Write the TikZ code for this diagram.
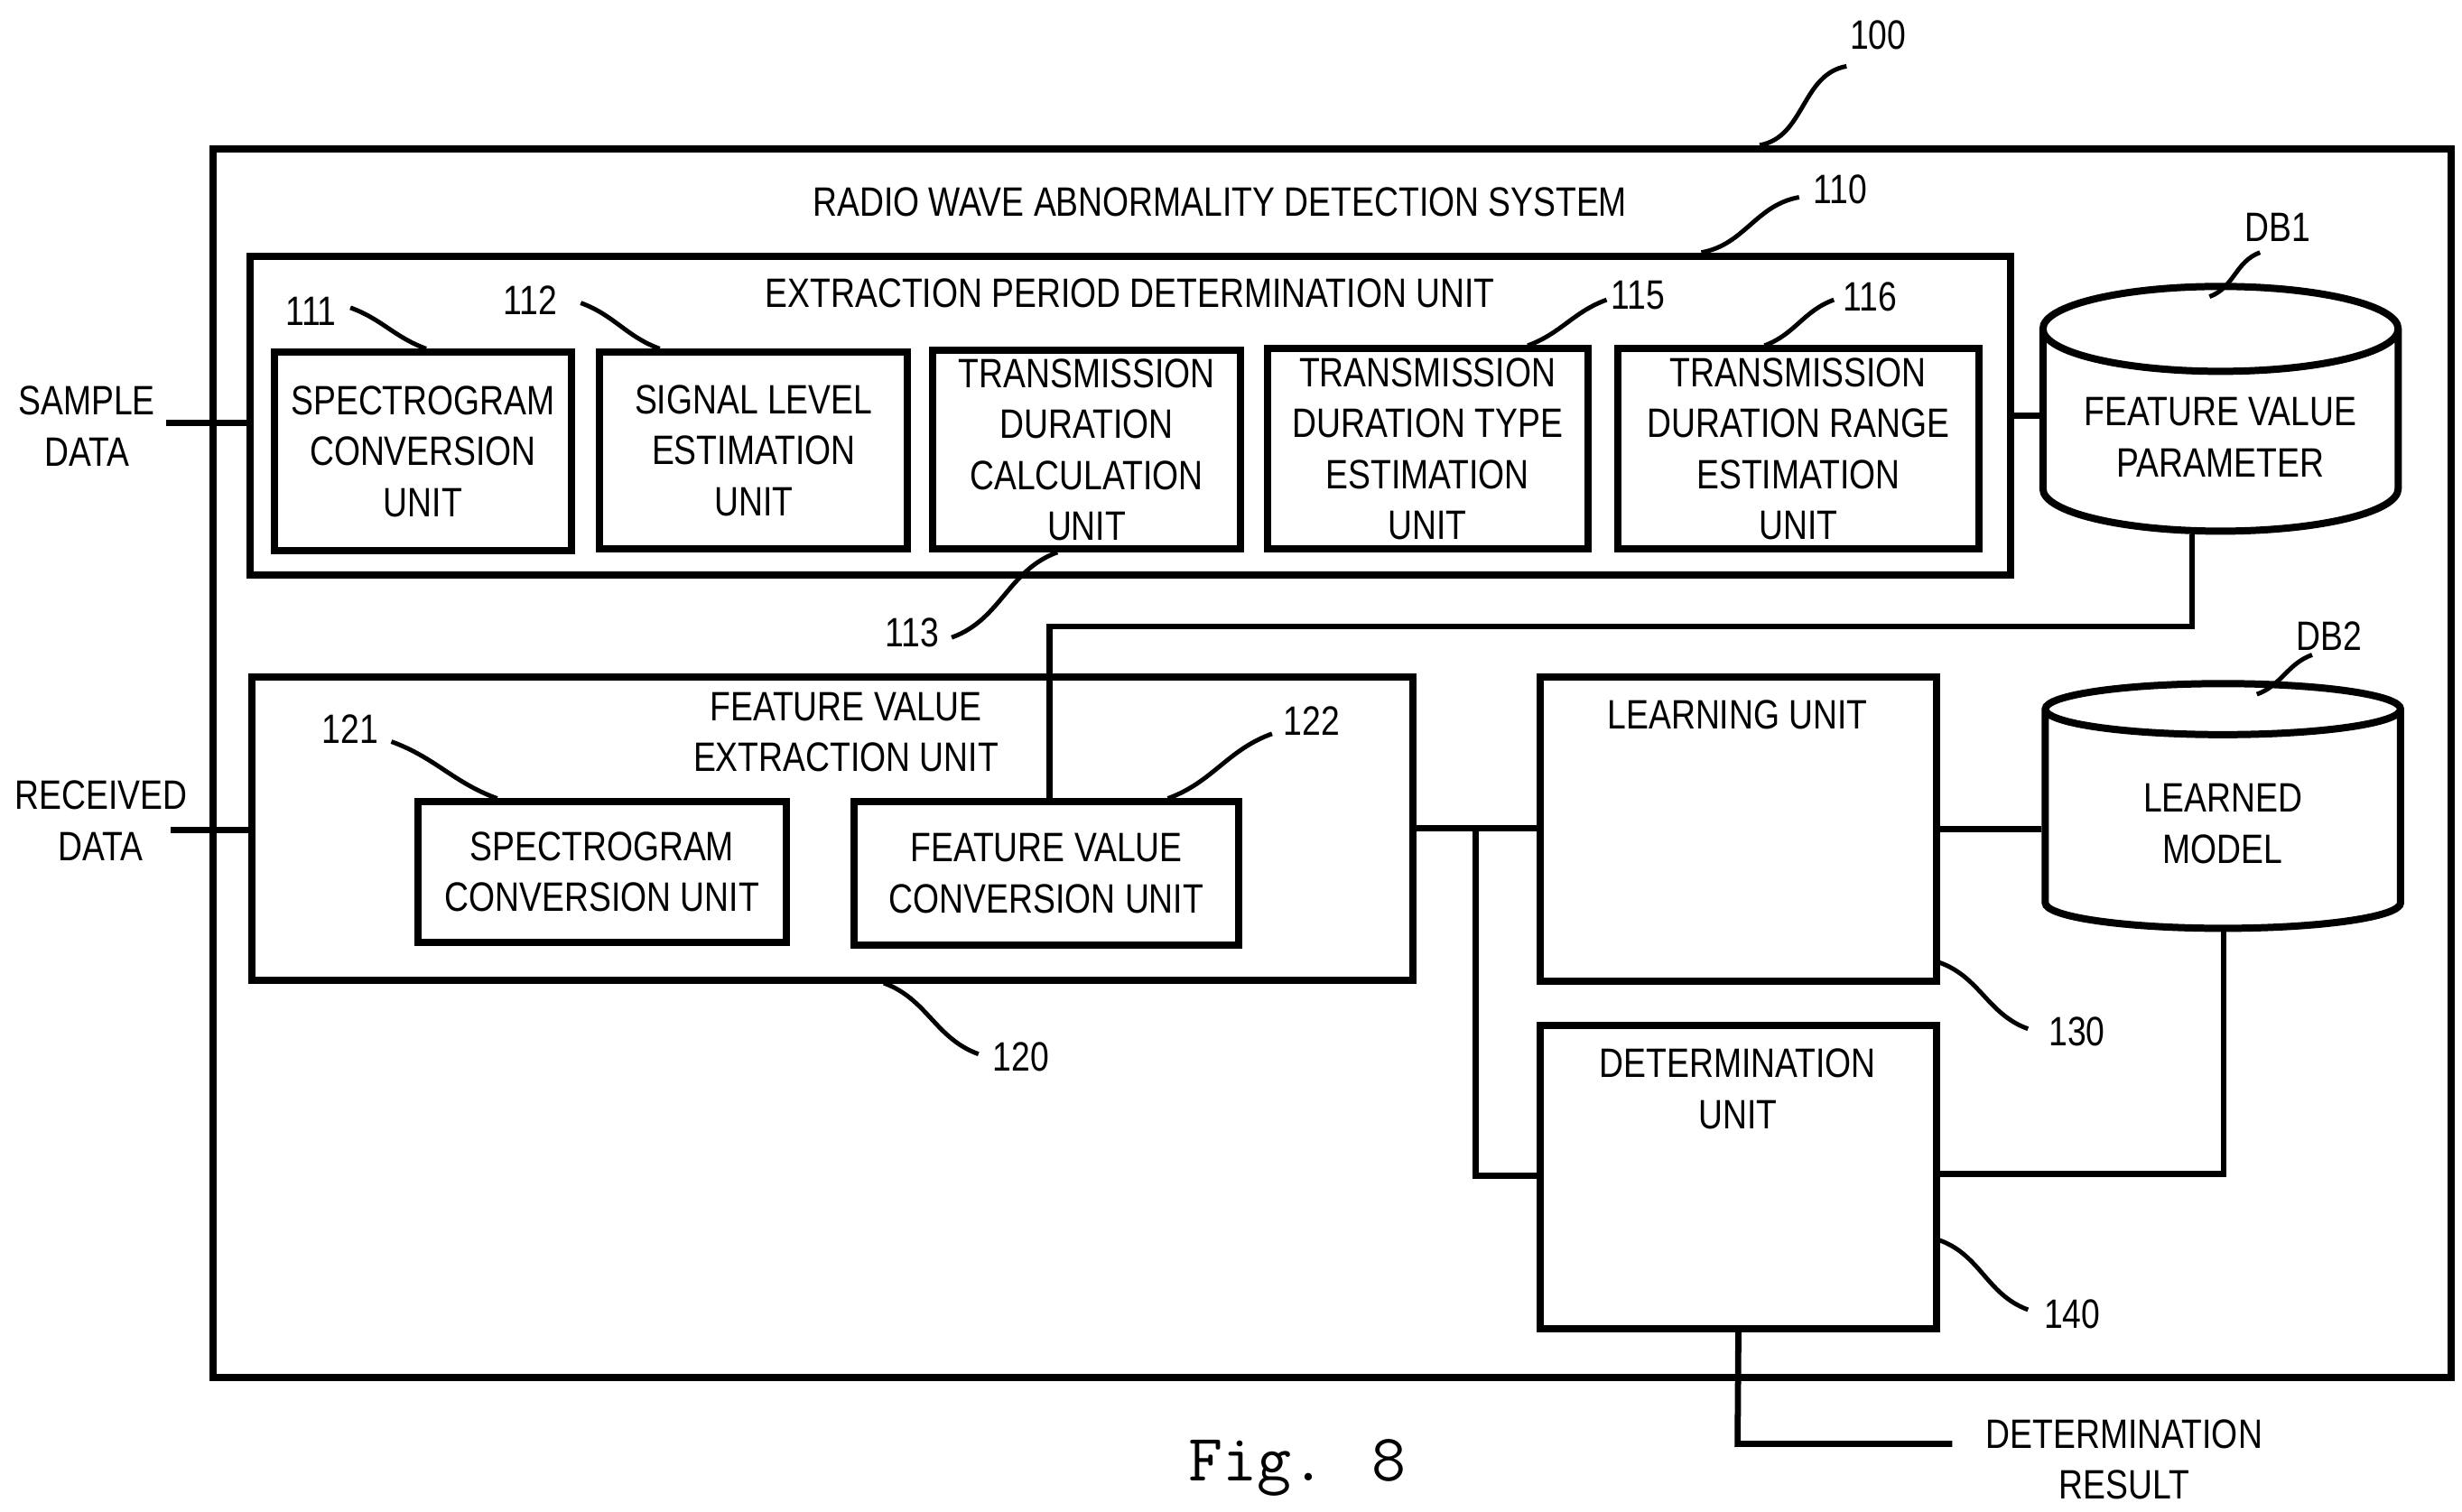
\documentclass[tikz,border=0pt]{standalone}
\usepackage{fontspec}
\setmainfont{Liberation Sans}[FakeStretch=0.82]
\usetikzlibrary{shapes.geometric}
\begin{document}
\begin{tikzpicture}[x=0.01cm,y=-0.01cm,line width=1.1pt,
  box/.style={draw,line width=1.3pt,align=center,inner sep=1pt,font=\fontsize{7.4}{9.2}\selectfont},
  txt/.style={align=center,inner sep=1pt,font=\fontsize{7.4}{9.2}\selectfont},
  db/.style={draw,line width=1.3pt,cylinder,shape border rotate=90,aspect=0.3,inner sep=1pt,minimum width=2.25cm,minimum height=1.55cm,align=center,font=\fontsize{7.4}{9.2}\selectfont},
  lead/.style={line width=0.8pt}]
  \useasboundingbox (0,0) rectangle (1560,958);
  % outer system
  \node[box,minimum width=14.17cm,minimum height=7.78cm] (sys) at (844,483.5) {};
  \node[txt] (systxt) at (773,128) {RADIO WAVE ABNORMALITY DETECTION SYSTEM};
  \node[txt] (l100) at (1190,22) {100};
  \coordinate (s100) at (1115,92);
  \draw[lead] (s100) to[out=10,in=190] (1170,42);
  % extraction period determination unit
  \node[box,minimum width=11.15cm,minimum height=2.02cm] (u110) at (716,263.5) {};
  \node[txt] (t110) at (716,186) {EXTRACTION PERIOD DETERMINATION UNIT};
  \node[txt] (l110) at (1166,120) {110};
  \draw[lead] (1078,160) to[out=10,in=190] (1140,125);
  \node[box,minimum width=1.88cm,minimum height=1.26cm] (u111) at (268,286) {SPECTROGRAM\\CONVERSION\\UNIT};
  \node[box,minimum width=1.95cm,minimum height=1.25cm] (u112) at (477.5,285.5) {SIGNAL LEVEL\\ESTIMATION\\UNIT};
  \node[box,minimum width=1.95cm,minimum height=1.26cm] (u113) at (688.5,285) {TRANSMISSION\\DURATION\\CALCULATION\\UNIT};
  \node[box,minimum width=2.03cm,minimum height=1.27cm] (u115) at (904.5,284.5) {TRANSMISSION\\DURATION TYPE\\ESTIMATION\\UNIT};
  \node[box,minimum width=2.29cm,minimum height=1.27cm] (u116) at (1139.5,284.5) {TRANSMISSION\\DURATION RANGE\\ESTIMATION\\UNIT};
  \node[txt] (l111) at (197,197) {111};
  \draw[lead] (222,195) to[out=-20,in=160] (270,221);
  \node[txt] (l112) at (336,190) {112};
  \draw[lead] (368,192) to[out=-20,in=160] (418,221);
  \node[txt] (l113) at (578,401) {113};
  \draw[lead] (603,404) to[out=20,in=200] (670,350);
  \node[txt] (l115) at (1038,187) {115};
  \draw[lead] (968,219) to[out=20,in=200] (1018,190);
  \node[txt] (l116) at (1185,188) {116};
  \draw[lead] (1118,219) to[out=20,in=200] (1162,190);
  % DB1
  \node[db] (db1) at (1407,277) {FEATURE VALUE\\PARAMETER};
  \node[txt] (ldb1) at (1443,144) {DB1};
  \draw[lead] (1400,188) to[out=20,in=200] (1432,160);
  \draw (u110.east) -- (u110.east -| db1.west);
  % sample data
  \node[txt] (sample) at (55,270) {SAMPLE\\DATA};
  \draw (105,268) -- (u110.west |- 0,268);
  % feature value extraction unit
  \node[box,minimum width=7.35cm,minimum height=1.92cm] (u120) at (527.5,525) {};
  \node[txt] (t120) at (536,464) {FEATURE VALUE\\EXTRACTION UNIT};
  \node[box,minimum width=2.33cm,minimum height=0.89cm] (u121) at (381.5,552.5) {SPECTROGRAM\\CONVERSION UNIT};
  \node[box,minimum width=2.44cm,minimum height=0.91cm] (u122) at (663,553.5) {FEATURE VALUE\\CONVERSION UNIT};
  \node[txt] (l121) at (222,462) {121};
  \draw[lead] (248,470) to[out=-20,in=160] (315,506);
  \node[txt] (l122) at (831,457) {122};
  \draw[lead] (740,506) to[out=20,in=200] (806,465);
  \node[txt] (l120) at (647,670) {120};
  \draw[lead] (560,623) to[out=-20,in=160] (620,668);
  \draw (db1.south -| 1389,0) -- (1389,397) -- (665,397) -- (665,506);
  % received data
  \node[txt] (recv) at (64,520) {RECEIVED\\DATA};
  \draw (108,526) -- (158,526);
  % learning / determination
  \node[box,minimum width=2.51cm,minimum height=1.93cm] (u130) at (1101.5,525.5) {};
  \node[txt] (t130) at (1101,453) {LEARNING UNIT};
  \node[box,minimum width=2.51cm,minimum height=1.92cm] (u140) at (1101.5,746) {};
  \node[txt] (t140) at (1101,690) {DETERMINATION\\UNIT};
  \node[txt] (l130) at (1316,654) {130};
  \draw[lead] (1229,610) to[out=-20,in=160] (1285,652);
  \node[txt] (l140) at (1313,833) {140};
  \draw[lead] (1229,786) to[out=-20,in=160] (1285,830);
  % DB2
  \node[db] (db2) at (1408.5,522) {LEARNED\\MODEL};
  \node[txt] (ldb2) at (1476,403) {DB2};
  \draw[lead] (1430,440) to[out=20,in=200] (1465,415);
  % connectors
  \coordinate (br) at (935,525.5);
  \draw (u120.east) -- (u120.east -| u130.west);
  \draw (br) -- (935,745) -- (974,745);
  \draw (u130.east) -- (u130.east -| db2.west);
  \draw (db2.south -| 1409,0) -- (1409,744) -- (1229,744);
  \coordinate (res) at (1237,915);
  \draw (u140.south) -- (1101,915) -- (res);
  \node[txt] (result) at (1346,925) {DETERMINATION\\RESULT};
  \node[font=\fontsize{12}{14}\selectfont\ttfamily] (fig) at (822,930) {Fig. 8};
\end{tikzpicture}
\end{document}
